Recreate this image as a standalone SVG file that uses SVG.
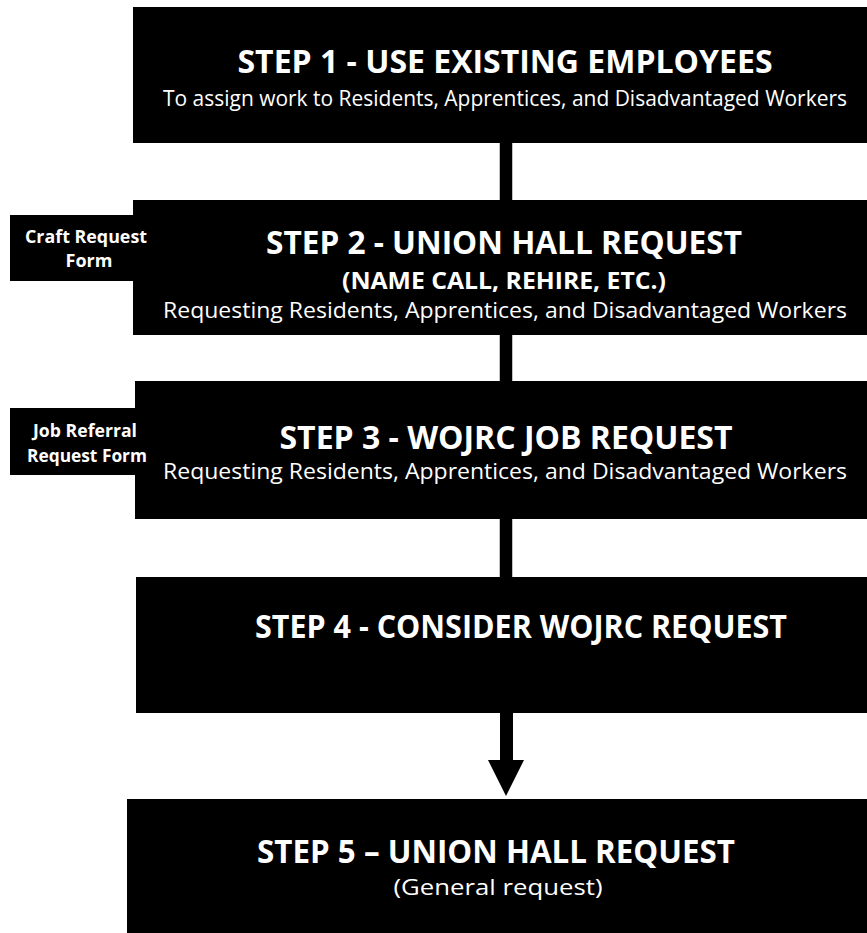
<svg xmlns="http://www.w3.org/2000/svg" width="867" height="933" viewBox="0 0 867 933">
<style>
.box{fill:#000}
.t{fill:#fff;font-family:"Open Sans","Liberation Sans",sans-serif;text-anchor:middle}
.title{font-size:32px;font-weight:bold}
.sub{font-size:21px}
.sub2{font-size:24px;font-weight:bold}
.lab{font-size:18px;font-weight:bold}
.bar{stroke:#000;stroke-width:12.5;fill:none}
</style>
<rect width="867" height="933" fill="#fff"/>
<g id="connectors">
<line class="bar" x1="506" y1="142" x2="506" y2="201"/>
<line class="bar" x1="506" y1="334" x2="506" y2="382"/>
<line class="bar" x1="506" y1="518" x2="506" y2="578"/>
<path d="M500,712 H513 V760 H524 L506,796 L488,760 H500 Z" fill="#000"/>
</g>
<g id="step1">
<rect class="box" x="133" y="7" width="734" height="136"/>
<text class="t title" x="505" y="73" textLength="535" lengthAdjust="spacingAndGlyphs">STEP 1 - USE EXISTING EMPLOYEES</text>
<text class="t sub" x="505" y="106" textLength="684" lengthAdjust="spacingAndGlyphs">To assign work to Residents, Apprentices, and Disadvantaged Workers</text>
</g>
<g id="step2">
<rect class="box" x="133" y="200" width="734" height="135"/>
<text class="t title" x="504" y="254" textLength="476" lengthAdjust="spacingAndGlyphs">STEP 2 - UNION HALL REQUEST</text>
<text class="t sub2" x="504" y="289" textLength="324" lengthAdjust="spacingAndGlyphs">(NAME CALL, REHIRE, ETC.)</text>
<text class="t sub" x="505" y="318" textLength="684" lengthAdjust="spacingAndGlyphs">Requesting Residents, Apprentices, and Disadvantaged Workers</text>
</g>
<g id="step3">
<rect class="box" x="135" y="381" width="732" height="138"/>
<text class="t title" x="506" y="449" textLength="453" lengthAdjust="spacingAndGlyphs">STEP 3 - WOJRC JOB REQUEST</text>
<text class="t sub" x="505" y="479" textLength="684" lengthAdjust="spacingAndGlyphs">Requesting Residents, Apprentices, and Disadvantaged Workers</text>
</g>
<g id="step4">
<rect class="box" x="136" y="577" width="731" height="136"/>
<text class="t title" x="521" y="638" textLength="532" lengthAdjust="spacingAndGlyphs">STEP 4 - CONSIDER WOJRC REQUEST</text>
</g>
<g id="step5">
<rect class="box" x="127" y="799" width="740" height="134"/>
<text class="t title" x="496" y="863" textLength="478" lengthAdjust="spacingAndGlyphs">STEP 5 – UNION HALL REQUEST</text>
<text class="t sub" x="498" y="895" textLength="209" lengthAdjust="spacingAndGlyphs">(General request)</text>
</g>
<g id="label-craft">
<rect class="box" x="10" y="215" width="124" height="66"/>
<text class="t lab" x="86" y="243" textLength="122" lengthAdjust="spacingAndGlyphs">Craft Request</text>
<text class="t lab" x="89" y="267">Form</text>
</g>
<g id="label-job">
<rect class="box" x="10" y="408" width="126" height="67"/>
<text class="t lab" x="85" y="437" textLength="104" lengthAdjust="spacingAndGlyphs">Job Referral</text>
<text class="t lab" x="87" y="462" textLength="120" lengthAdjust="spacingAndGlyphs">Request Form</text>
</g>
</svg>
